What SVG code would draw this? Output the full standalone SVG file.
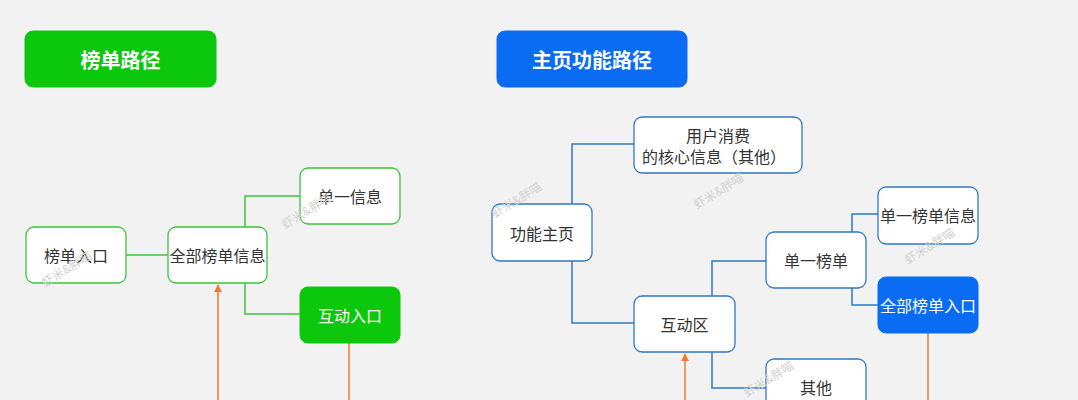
<svg xmlns="http://www.w3.org/2000/svg" width="1078" height="400" viewBox="0 0 1078 400">
<defs>
<style>
text{font-family:"Noto Sans CJK SC","Liberation Sans",sans-serif;text-anchor:middle;dominant-baseline:central}
.t{font-size:20px;font-weight:bold;fill:#fff}
.n{font-size:16px;fill:#333}
.nw{font-size:16px;fill:#fff}
.g{fill:#fff;stroke:#3cc43c;stroke-width:1.3}
.gf{fill:#0cc80c;stroke:#0cc80c}
.b{fill:#fff;stroke:#2f78c8;stroke-width:1.3}
.bf{fill:#0a6cf2;stroke:#0a6cf2}
.cg{fill:none;stroke:#3cc43c;stroke-width:1.5}
.cb{fill:none;stroke:#2f78c8;stroke-width:1.5}
.co{fill:none;stroke:#f07a2a;stroke-width:1.5}
.wm{font-size:12px;fill:#d2d2d2}
</style>
<marker id="ah" viewBox="0 0 10 10" refX="9" refY="5" markerWidth="8" markerHeight="8" orient="auto-start-reverse" markerUnits="userSpaceOnUse">
<path d="M0,0 L10,5 L0,10 z" fill="#f07a2a"/>
</marker>
</defs>
<rect width="1078" height="400" fill="#f2f2f2"/>

<g id="connectors">
<path class="cg" d="M126,255 H168"/>
<path class="cg" d="M245,227 V196 H300"/>
<path class="cg" d="M245,283 V314 H300"/>
<path class="co" d="M218,400 V285" marker-end="url(#ah)"/>
<path class="co" d="M349,343 V400"/>
<path class="cb" d="M572,204 V144 H634"/>
<path class="cb" d="M572,261 V323 H634"/>
<path class="cb" d="M712,296 V261 H766"/>
<path class="cb" d="M712,352 V388 H766"/>
<path class="cb" d="M852,232 V214 H878"/>
<path class="cb" d="M852,288 V305 H878"/>
<path class="co" d="M685,400 V354" marker-end="url(#ah)"/>
<path class="co" d="M928,333 V400"/>
</g>

<g id="title-left"><rect class="gf" x="25" y="31" width="191" height="56" rx="8"/><text class="t" x="120.5" y="59">榜单路径</text></g>
<g id="title-right"><rect class="bf" x="497" y="31" width="190" height="56" rx="8"/><text class="t" x="592" y="59">主页功能路径</text></g>

<g id="n-bangdanrukou"><rect class="g" x="26" y="227" width="100" height="56" rx="8"/><text class="n" x="76" y="255">榜单入口</text></g>
<g id="n-quanbubangdanxinxi"><rect class="g" x="168" y="227" width="99" height="56" rx="8"/><text class="n" x="217.5" y="255">全部榜单信息</text></g>
<g id="n-danyixinxi"><rect class="g" x="300" y="168" width="100" height="56" rx="8"/><text class="n" x="350" y="196">单一信息</text></g>
<g id="n-hudongrukou"><rect class="gf" x="300" y="287" width="100" height="56" rx="8"/><text class="nw" x="350" y="315">互动入口</text></g>

<g id="n-yonghuxiaofei"><rect class="b" x="634" y="117" width="168" height="56" rx="8"/><text class="n" x="718" y="135"><tspan x="718" y="135">用户消费</tspan><tspan x="714" y="156">的核心信息（其他）</tspan></text></g>
<g id="n-gongnengzhuye"><rect class="b" x="492" y="204" width="100" height="57" rx="8"/><text class="n" x="542" y="233">功能主页</text></g>
<g id="n-hudongqu"><rect class="b" x="634" y="296" width="101" height="56" rx="8"/><text class="n" x="684.5" y="324">互动区</text></g>
<g id="n-danyibangdan"><rect class="b" x="766" y="232" width="100" height="56" rx="8"/><text class="n" x="816" y="260">单一榜单</text></g>
<g id="n-qita"><rect class="b" x="766" y="359" width="100" height="56" rx="8"/><text class="n" x="816" y="387">其他</text></g>
<g id="n-danyibangdanxinxi"><rect class="b" x="878" y="187" width="100" height="57" rx="8"/><text class="n" x="928" y="215">单一榜单信息</text></g>
<g id="n-quanbubangdanrukou"><rect class="bf" x="878" y="277" width="100" height="56" rx="8"/><text class="nw" x="928" y="305">全部榜单入口</text></g>

<g id="watermarks">
<text class="wm" transform="translate(66,268) rotate(-32)">虾米&amp;胖喵</text>
<text class="wm" transform="translate(306,210) rotate(-32)">虾米&amp;胖喵</text>
<text class="wm" transform="translate(516,199) rotate(-32)">虾米&amp;胖喵</text>
<text class="wm" transform="translate(718,190) rotate(-32)">虾米&amp;胖喵</text>
<text class="wm" transform="translate(929,245) rotate(-32)">虾米&amp;胖喵</text>
<text class="wm" transform="translate(768,378) rotate(-32)">虾米&amp;胖喵</text>
</g>
</svg>
